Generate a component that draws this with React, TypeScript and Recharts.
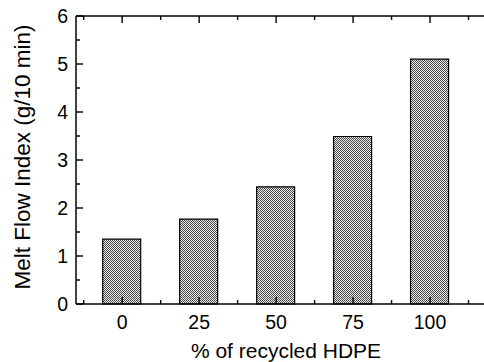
import React from 'react';
import { BarChart, Bar, XAxis, YAxis } from 'recharts';

const recycledPct = [0, 25, 50, 75, 100];
const meltFlowIndex = [1.35, 1.77, 2.44, 3.49, 5.1];
const xTicks = [-12.5, 0, 12.5, 25, 37.5, 50, 62.5, 75, 87.5, 100, 112.5];
const yTicks = [0, 0.5, 1, 1.5, 2, 2.5, 3, 3.5, 4, 4.5, 5, 5.5, 6];
const xTitle = '% of recycled HDPE';
const yTitle = 'Melt Flow Index (g/10 min)';

const data = recycledPct.map((p, i) => ({ pct: p, mfi: meltFlowIndex[i] }));

const FONT = '"Liberation Sans", Arial, Helvetica, sans-serif';

const isMajorX = (v: number) => Math.abs(v % 25) < 1e-6;
const isMajorY = (v: number) => Math.abs(v % 1) < 1e-6;

const BottomTick = (props: any) => {
  const { x, y, payload } = props;
  const v = payload.value as number;
  const major = isMajorX(v);
  return (
    <g>
      <path d={`M${x},${y}L${x},${y - (major ? 7 : 4)}`} stroke="#000" strokeWidth={1.4} fill="none" />
      {major && (
        <text x={x} y={y + 25} textAnchor="middle" fontSize={19.5} fontFamily={FONT} fill="#000">
          {v}
        </text>
      )}
    </g>
  );
};

const TopTick = (props: any) => {
  const { x, y, payload } = props;
  const v = payload.value as number;
  const major = isMajorX(v);
  return <path d={`M${x},${y}L${x},${y + (major ? 7 : 4)}`} stroke="#000" strokeWidth={1.4} fill="none" />;
};

const LeftTick = (props: any) => {
  const { x, y, payload } = props;
  const v = payload.value as number;
  const major = isMajorY(v);
  return (
    <g>
      <path d={`M${x},${y}L${x + (major ? 7 : 4)},${y}`} stroke="#000" strokeWidth={1.4} fill="none" />
      {major && (
        <text x={x - 8} y={y + 7} textAnchor="end" fontSize={19.5} fontFamily={FONT} fill="#000">
          {v}
        </text>
      )}
    </g>
  );
};

const XTitle = (props: any) => {
  const { viewBox } = props;
  return (
    <text x={viewBox.x + 210} y={viewBox.y + 54} textAnchor="middle" fontSize={21} fontFamily={FONT} fill="#000">
      {xTitle}
    </text>
  );
};

const YTitle = (props: any) => {
  const { viewBox } = props;
  const cx = 22;
  const cy = viewBox.y + viewBox.height / 2 - 3;
  return (
    <text
      x={cx}
      y={cy}
      transform={`rotate(-90 ${cx} ${cy})`}
      textAnchor="middle"
      dominantBaseline="central"
      fontSize={22.5}
      fontFamily={FONT}
      fill="#000"
    >
      {yTitle}
    </text>
  );
};

export default function App() {
  return (
    <div style={{ position: 'absolute', left: 0, top: 0, width: 484, height: 362, overflow: 'hidden', background: '#fff' }}>
      <BarChart width={530} height={362} data={data} margin={{ top: 15, right: 23, left: 0, bottom: 0 }}>
        <defs>
          <pattern id="checker" width="2" height="2" patternUnits="userSpaceOnUse">
            <rect x="0" y="0" width="2" height="2" fill="#ececec" />
            <rect x="0" y="0" width="1" height="1" fill="#4a4a4a" />
            <rect x="1" y="1" width="1" height="1" fill="#4a4a4a" />
          </pattern>
        </defs>
        <XAxis
          xAxisId="bottom"
          dataKey="pct"
          type="number"
          domain={[-15, 125]}
          ticks={xTicks}
          interval={0}
          allowDataOverflow
          height={58}
          tickSize={0}
          tickMargin={0}
          tickLine={false}
          axisLine={{ stroke: '#000', strokeWidth: 1.5 }}
          tick={<BottomTick />}
          label={<XTitle />}
        />
        <XAxis
          xAxisId="top"
          orientation="top"
          dataKey="pct"
          type="number"
          domain={[-15, 125]}
          ticks={xTicks}
          interval={0}
          allowDataOverflow
          height={1}
          tickSize={0}
          tickMargin={0}
          tickLine={false}
          axisLine={{ stroke: '#000', strokeWidth: 1.5 }}
          tick={<TopTick />}
        />
        <YAxis
          type="number"
          domain={[0, 6]}
          ticks={yTicks}
          interval={0}
          width={76}
          tickSize={0}
          tickMargin={0}
          tickLine={false}
          axisLine={{ stroke: '#000', strokeWidth: 1.5 }}
          tick={<LeftTick />}
          label={<YTitle />}
        />
        <Bar
          xAxisId="bottom"
          dataKey="mfi"
          barSize={38}
          fill="url(#checker)"
          stroke="#000"
          strokeWidth={1.2}
          isAnimationActive={false}
        />
      </BarChart>
    </div>
  );
}
